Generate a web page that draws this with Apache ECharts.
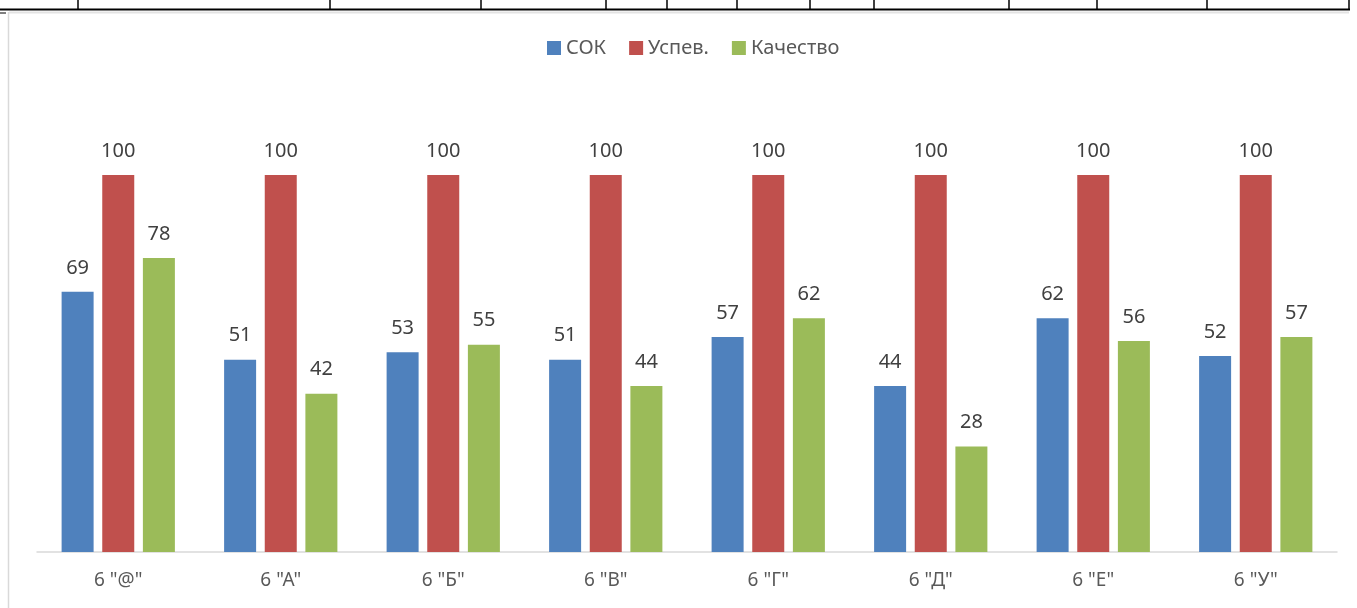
<!DOCTYPE html>
<html>
<head>
<meta charset="utf-8">
<script src="https://cdn.jsdelivr.net/npm/echarts@6/dist/echarts.min.js"></script>
<style>
  html, body { margin: 0; padding: 0; background: #fff; }
  #chart { width: 1357px; height: 608px; }
</style>
</head>
<body>
<div id="chart"></div>
<script>
// classes and results
const categories = ['6 "@"', '6 "А"', '6 "Б"', '6 "В"', '6 "Г"', '6 "Д"', '6 "Е"', '6 "У"']
const sokValues = [69, 51, 53, 51, 57, 44, 62, 52]
const uspevValues = [100, 100, 100, 100, 100, 100, 100, 100]
const kachestvoValues = [78, 42, 55, 44, 62, 28, 56, 57]

const font = '"Noto Sans", "Open Sans", sans-serif'

// table border strip above the chart (spreadsheet cells)
const cellEdges = [78, 330, 481, 606, 667, 737, 810, 874, 1009, 1097, 1207, 1349]
const decor = [
  { type: 'line', shape: { x1: 0, y1: 9.5, x2: 1350, y2: 9.5 }, style: { stroke: '#000', lineWidth: 2 } },
  { type: 'line', shape: { x1: 9, y1: 12.5, x2: 1349, y2: 12.5 }, style: { stroke: '#e3e3e3', lineWidth: 2 } },
  { type: 'line', shape: { x1: 8.5, y1: 12, x2: 8.5, y2: 608 }, style: { stroke: '#d9d9d9', lineWidth: 1.5 } },
  { type: 'line', shape: { x1: 0, y1: 13, x2: 6, y2: 13 }, style: { stroke: '#000', lineWidth: 1 } }
]
cellEdges.forEach(x => {
  decor.push({ type: 'line', shape: { x1: x, y1: 0, x2: x, y2: 10 }, style: { stroke: '#000', lineWidth: 1.5 } })
})

const chart = echarts.init(document.getElementById('chart'))

const labelStyle = {
  show: true,
  position: 'top',
  distance: 14,
  color: '#404040',
  fontSize: 20,
  fontFamily: font
}

chart.setOption({
  animation: false,
  textStyle: { fontFamily: font },
  graphic: decor,
  legend: {
    top: 33,
    left: 542,
    itemWidth: 14,
    itemHeight: 14,
    itemGap: 23,
    icon: 'rect',
    textStyle: { color: '#595959', fontSize: 20, fontFamily: font }
  },
  grid: { left: 37, right: 20, top: 175, bottom: 56 },
  xAxis: {
    type: 'category',
    data: categories,
    axisTick: { show: false },
    axisLine: { lineStyle: { color: '#d9d9d9', width: 1.5 } },
    axisLabel: { color: '#595959', fontSize: 19, margin: 19, fontFamily: font }
  },
  yAxis: {
    type: 'value',
    min: 0,
    max: 100,
    show: false
  },
  series: [
    {
      name: 'СОК',
      type: 'bar',
      data: sokValues,
      barWidth: 32,
      barGap: '27%',
      itemStyle: { color: '#4F81BD' },
      label: labelStyle
    },
    {
      name: 'Успев.',
      type: 'bar',
      data: uspevValues,
      barWidth: 32,
      barGap: '27%',
      itemStyle: { color: '#C0504D' },
      label: labelStyle
    },
    {
      name: 'Качество',
      type: 'bar',
      data: kachestvoValues,
      barWidth: 32,
      barGap: '27%',
      itemStyle: { color: '#9BBB59' },
      label: labelStyle
    }
  ]
})
</script>
</body>
</html>
